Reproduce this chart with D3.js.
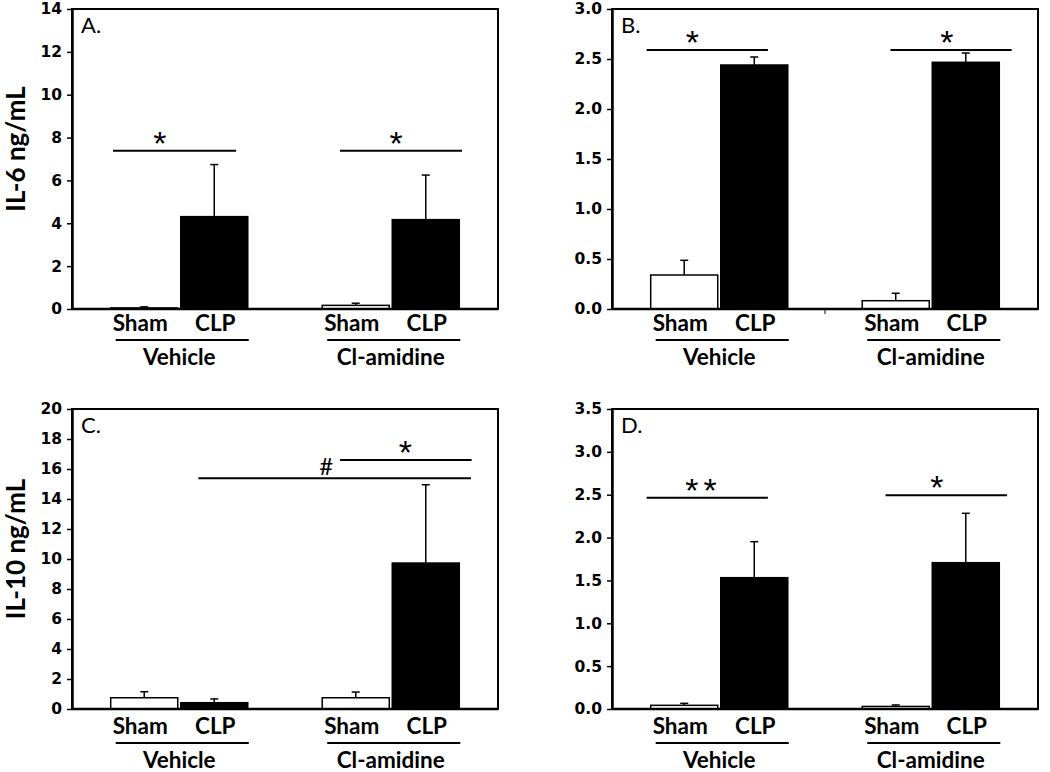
<!DOCTYPE html>
<html><head><meta charset="utf-8">
<script src="https://cdn.jsdelivr.net/npm/d3@7"></script>
<style>body{margin:0;background:#fff}</style>
</head><body>
<svg id="chart" width="1050" height="772"></svg>
<script>
// ---------- data ----------
const groups = ["Vehicle", "Cl-amidine"];
const treatments = ["Sham", "CLP"];

// order: Vehicle-Sham, Vehicle-CLP, Cl-amidine-Sham, Cl-amidine-CLP
const meansA = [0.05, 4.31, 0.17, 4.17];
const semsA  = [0.05, 2.43, 0.10, 2.08];
const meansB = [0.34, 2.44, 0.083, 2.467];
const semsB  = [0.147, 0.08, 0.074, 0.093];
const meansC = [0.75, 0.42, 0.75, 9.73];
const semsC  = [0.40, 0.25, 0.38, 5.22];
const meansD = [0.043, 1.532, 0.03, 1.707];
const semsD  = [0.023, 0.42, 0.017, 0.576];

const ticksA = [0, 2, 4, 6, 8, 10, 12, 14];
const ticksB = [0, 0.5, 1.0, 1.5, 2.0, 2.5, 3.0];
const ticksC = [0, 2, 4, 6, 8, 10, 12, 14, 16, 18, 20];
const ticksD = [0, 0.5, 1.0, 1.5, 2.0, 2.5, 3.0, 3.5];

const panelLetters = ["A.", "B.", "C.", "D."];
const yTitles = ["IL-6 ng/mL", "", "IL-10 ng/mL", ""];

// significance brackets: [fromGroup, fromFrac, toGroup, toFrac, yValue, label, labelFrac]
const sigA = [["Vehicle", 0.017, "Vehicle", 0.915, 7.38, "*", 0.38],
              ["Cl-amidine", 0.13, "Cl-amidine", 1.02, 7.38, "*", 0.46]];
const sigB = [["Vehicle", -0.03, "Vehicle", 0.855, 2.59, "*", 0.377],
              ["Cl-amidine", 0.206, "Cl-amidine", 1.09, 2.59, "*", 0.465]];
const sigC = [["Vehicle", 0.64, "Cl-amidine", 1.085, 15.38, "#", 0.469],
              ["Cl-amidine", 0.13, "Cl-amidine", 1.09, 16.6, "*", 0.496]];
const sigD = [["Vehicle", -0.03, "Vehicle", 0.855, 2.466, "**", 0.47],
              ["Cl-amidine", 0.17, "Cl-amidine", 1.057, 2.494, "*", 0.423]];

// ---------- layout ----------
const W = 426, H = 300;
const panels = [
  {left: 72,  top: 9,   means: meansA, sems: semsA, ticks: ticksA, fmt: d3.format("d"),   sig: sigA, lab: 0, midTick: false},
  {left: 612, top: 9,   means: meansB, sems: semsB, ticks: ticksB, fmt: d3.format(".1f"), sig: sigB, lab: 0, midTick: true},
  {left: 72,  top: 409, means: meansC, sems: semsC, ticks: ticksC, fmt: d3.format("d"),   sig: sigC, lab: 3, midTick: false},
  {left: 612, top: 409, means: meansD, sems: semsD, ticks: ticksD, fmt: d3.format(".1f"), sig: sigD, lab: 3, midTick: false}
];

const svg = d3.select("#chart");
svg.append("rect").attr("width", 1050).attr("height", 772).attr("fill", "#fff");

panels.forEach((p, pi) => {
  const g = svg.append("g").attr("transform", `translate(${p.left},${p.top})`);
  const x0 = d3.scaleBand().domain(groups).range([0, W]).paddingInner(0.352).paddingOuter(0.183);
  const x1 = d3.scaleBand().domain(treatments).range([0, x0.bandwidth()]).paddingInner(0.043);
  const y = d3.scaleLinear().domain([0, d3.max(p.ticks)]).range([H, 0]);
  const gx = (grp, frac) => x0(grp) + frac * x0.bandwidth();

  const data = groups.flatMap((gr, gi) => treatments.map((t, ti) => ({
    gr, t, mean: p.means[gi * 2 + ti], sem: p.sems[gi * 2 + ti]
  })));

  // error bars (upper only)
  const eb = g.append("g");
  data.forEach(d => {
    const cx = x0(d.gr) + x1(d.t) + x1.bandwidth() / 2;
    eb.append("line").attr("x1", cx).attr("x2", cx)
      .attr("y1", y(d.mean)).attr("y2", y(d.mean + d.sem))
      .attr("stroke", "#000").attr("stroke-width", 1.5);
    eb.append("line").attr("x1", cx - 4).attr("x2", cx + 4)
      .attr("y1", y(d.mean + d.sem)).attr("y2", y(d.mean + d.sem))
      .attr("stroke", "#000").attr("stroke-width", 1.5);
  });

  // bars
  g.append("g").selectAll("rect").data(data).join("rect")
    .attr("x", d => x0(d.gr) + x1(d.t))
    .attr("width", x1.bandwidth())
    .attr("y", d => y(d.mean))
    .attr("height", d => H - y(d.mean))
    .attr("fill", d => d.t === "CLP" ? "#000" : "#fff")
    .attr("stroke", "#000").attr("stroke-width", 1.5);

  // frame
  g.append("rect").attr("width", W).attr("height", H)
    .attr("fill", "none").attr("stroke", "#000").attr("stroke-width", 2);

  // y axis
  const ya = g.append("g").call(d3.axisLeft(y).tickValues(p.ticks).tickFormat(p.fmt)
    .tickSize(5).tickSizeOuter(0).tickPadding(5));
  ya.attr("font-size", null).attr("font-family", null);
  ya.select(".domain").attr("stroke-width", 2.5);
  ya.selectAll(".tick line").attr("stroke-width", 1.5);
  ya.selectAll("text")
    .style("font-family", "'DejaVu Sans', sans-serif")
    .style("font-weight", "bold").style("font-size", "15.5px").attr("fill", "#000");

  // bottom axis line (thicker)
  g.append("line").attr("x1", 0).attr("x2", W).attr("y1", H).attr("y2", H)
    .attr("stroke", "#000").attr("stroke-width", 2.5);
  if (p.midTick) {
    const mx = (x0("Vehicle") + x0.bandwidth() + x0("Cl-amidine")) / 2;
    g.append("line").attr("x1", mx).attr("x2", mx).attr("y1", H).attr("y2", H + 5)
      .attr("stroke", "#000").attr("stroke-width", 1);
  }

  // category labels
  const cat = g.append("g").attr("font-family", "Lato, sans-serif").attr("font-weight", "bold")
    .attr("text-anchor", "middle").attr("fill", "#000");
  data.forEach(d => {
    cat.append("text")
      .attr("x", x0(d.gr) + x1(d.t) + x1.bandwidth() / 2 + (d.t === "Sham" ? -4 : 1))
      .attr("y", H + 22 + p.lab).attr("font-size", 22.5).text(d.t);
  });
  groups.forEach(gr => {
    g.append("line").attr("x1", x0(gr) + 5).attr("x2", x0(gr) + x0.bandwidth() + 1)
      .attr("y1", H + 31 + p.lab).attr("y2", H + 31 + p.lab)
      .attr("stroke", "#000").attr("stroke-width", 2);
    cat.append("text").attr("x", x0(gr) + x0.bandwidth() / 2)
      .attr("y", H + 56 + p.lab).attr("font-size", 22.5).text(gr);
  });

  // significance
  p.sig.forEach(s => {
    const xa = gx(s[0], s[1]), xb = gx(s[2], s[3]), yy = y(s[4]);
    g.append("line").attr("x1", xa).attr("x2", xb).attr("y1", yy).attr("y2", yy)
      .attr("stroke", "#000").attr("stroke-width", 2);
    const isHash = s[5] === "#";
    g.append("text").attr("x", xa + (xb - xa) * s[6])
      .attr("y", isHash ? yy - 3 : yy + 4)
      .attr("text-anchor", "middle")
      .attr("font-family", isHash ? "Lato, sans-serif" : "'Liberation Sans', Arial, sans-serif")
      .attr("font-size", isHash ? 24 : 34)
      .attr("letter-spacing", s[5] === "**" ? 5 : 0)
      .attr("fill", "#000").text(s[5]);
  });

  // panel letter
  g.append("text").attr("x", 9).attr("y", 24).attr("font-family", "Lato, sans-serif")
    .attr("font-size", 22).attr("fill", "#000").text(panelLetters[pi]);

  // y title
  if (yTitles[pi]) {
    g.append("text").attr("transform", `translate(${25 - p.left},${H / 2 - 10}) rotate(-90)`)
      .attr("text-anchor", "middle").attr("font-family", "Lato, sans-serif")
      .attr("font-weight", "bold").attr("font-size", 26).attr("fill", "#000")
      .text(yTitles[pi]);
  }
});
</script>
</body></html>
